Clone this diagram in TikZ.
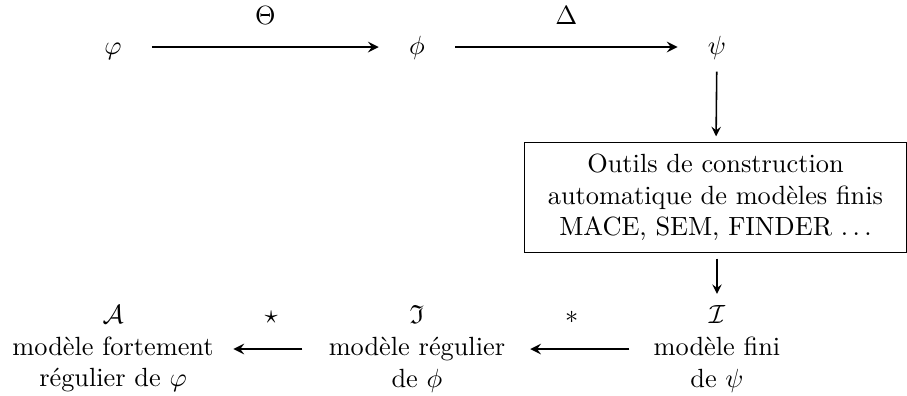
\documentclass[tikz,border=0pt]{standalone}
\usepackage{amsmath}
\usepackage{amssymb}
\usetikzlibrary{arrows}

\begin{document}
\begin{tikzpicture}
	\useasboundingbox (0,0) rectangle (12.11,-5.287);
	\begin{scope}
		\tikzstyle{every node}=[align=center]
		\tikzstyle{sym}=[text height=1.5ex, text depth=.25ex]
		\tikzstyle{hmap}=[->, >=stealth, thick, shorten >=8pt, shorten <=8pt]
		\tikzstyle{vmap}=[->, >=stealth, semithick, shorten >=2pt, shorten <=2pt]

		\node[sym] (varphi) at (1.509, -0.628) {$\varphi$};
		\node[sym] (phi) at (5.567, -0.628) {$\phi$};
		\node[sym] (psi) at (9.573, -0.628) {$\psi$};

		\node[draw, minimum width=5.11cm, minimum height=1.48cm] (tools) at (9.553, -2.637) {Outils de construction \\ automatique de modèles finis \\ MACE, SEM, FINDER $\ldots$};

		\node (fin) at (9.573, -4.66) {$\mathcal{I}$ \\ modèle fini \\ de $\psi$};
		\node (reg) at (5.567, -4.66) {$\mathfrak{I}$ \\ modèle régulier \\ de $\phi$};
		\node (freg) at (1.509, -4.66) {$\mathcal{A}$ \\ modèle fortement \\ régulier de $\varphi$};

		\draw[hmap](varphi) -- node[above=5pt] (theta) {$\Theta$} (phi);
		\draw[hmap](phi) -- node[above=5pt] (delta) {$\Delta$} (psi);

		\draw[vmap](psi) -- (tools);
		\draw[vmap, shorten >=1pt](tools.south -| fin) -- (fin);

		\draw[hmap, shorten <=5.7pt, shorten >=6pt](fin) -- node[above=6pt, pos=.56] (ast) {$\ast$} (reg);
		\draw[hmap, shorten <=6.5pt, shorten >=4pt](reg) -- node[above=6pt] (star) {$\star$} (freg);
	\end{scope}
\end{tikzpicture}
\end{document}
